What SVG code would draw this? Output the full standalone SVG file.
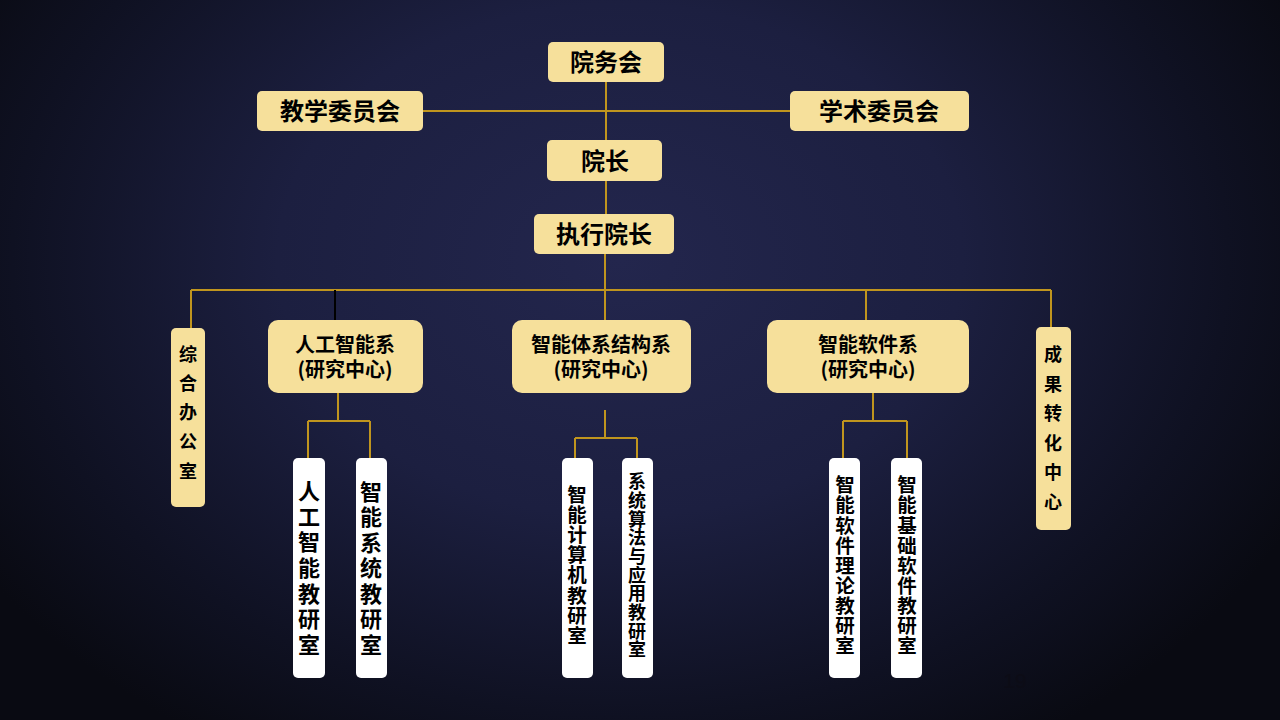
<svg xmlns="http://www.w3.org/2000/svg" width="1280" height="720" viewBox="0 0 1280 720">
<defs>
<radialGradient id="bg" cx="620" cy="260" r="760" gradientUnits="userSpaceOnUse" gradientTransform="translate(620 260) scale(1 0.75) translate(-620 -260)">
<stop offset="0" stop-color="#23264d"/>
<stop offset="0.45" stop-color="#1c1f40"/>
<stop offset="0.8" stop-color="#0f1122"/>
<stop offset="1" stop-color="#090a12"/>
</radialGradient>
<style>
.gold{fill:#f6e09b}
.white{fill:#ffffff}
.t{font-family:"Noto Sans CJK SC","Noto Sans",sans-serif;font-weight:bold;fill:#000;text-anchor:middle}
.c{stroke:#c0951e;stroke-width:2;fill:none}
.k{stroke:#000;stroke-width:2;fill:none}
</style>
</defs>
<rect width="1280" height="720" fill="url(#bg)"/>
<g id="connectors">
<path class="c" d="M606 82V140M423 111H790M606 181V214M605 254V290M191 290H1051M191 290V328M605 290V320M866 290V320M1051 290V328"/>
<path class="k" d="M335 290V320"/>
<path class="c" d="M338 393V421M308 421H370M308 421V458M370 421V458"/>
<path class="c" d="M605 410V438M575 438H637M575 438V468M637 438V470"/>
<path class="c" d="M873 393V421M843 421H907M843 421V458M907 421V458"/>
</g>
<g id="yuanwuhui"><rect class="gold" x="548" y="42" width="116" height="40" rx="5"/><text class="t" x="606" y="71" font-size="24">院务会</text></g>
<g id="jiaoxue"><rect class="gold" x="257" y="91" width="166" height="40" rx="5"/><text class="t" x="340" y="120" font-size="24">教学委员会</text></g>
<g id="xueshu"><rect class="gold" x="790" y="91" width="179" height="40" rx="5"/><text class="t" x="879" y="120" font-size="24">学术委员会</text></g>
<g id="yuanzhang"><rect class="gold" x="547" y="140" width="115" height="41" rx="5"/><text class="t" x="605" y="170" font-size="24">院长</text></g>
<g id="zhixing"><rect class="gold" x="534" y="214" width="140" height="40" rx="5"/><text class="t" x="604" y="243" font-size="24">执行院长</text></g>
<g id="zonghe"><rect class="gold" x="171" y="328" width="34" height="179" rx="5"/>
<text class="t" font-size="18"><tspan x="188" y="361">综</tspan><tspan x="188" y="390">合</tspan><tspan x="188" y="419">办</tspan><tspan x="188" y="448">公</tspan><tspan x="188" y="478">室</tspan></text></g>
<g id="rengong"><rect class="gold" x="268" y="320" width="155" height="73" rx="10"/>
<text class="t" font-size="20"><tspan x="345" y="352">人工智能系</tspan><tspan x="345" y="377">(研究中心)</tspan></text></g>
<g id="tixi"><rect class="gold" x="512" y="320" width="179" height="73" rx="10"/>
<text class="t" font-size="20"><tspan x="601" y="352">智能体系结构系</tspan><tspan x="601" y="377">(研究中心)</tspan></text></g>
<g id="ruanjian"><rect class="gold" x="767" y="320" width="202" height="73" rx="10"/>
<text class="t" font-size="20"><tspan x="868" y="352">智能软件系</tspan><tspan x="868" y="377">(研究中心)</tspan></text></g>
<g id="chengguo"><rect class="gold" x="1036" y="327" width="35" height="203" rx="5"/>
<text class="t" font-size="18"><tspan x="1053" y="361">成</tspan><tspan x="1053" y="391">果</tspan><tspan x="1053" y="420">转</tspan><tspan x="1053" y="450">化</tspan><tspan x="1053" y="479">中</tspan><tspan x="1053" y="509">心</tspan></text></g>
<g id="rgznjys"><rect class="white" x="293" y="458" width="32" height="220" rx="5"/>
<text class="t" font-size="22"><tspan x="309" y="499">人</tspan><tspan x="309" y="525">工</tspan><tspan x="309" y="550">智</tspan><tspan x="309" y="576">能</tspan><tspan x="309" y="602">教</tspan><tspan x="309" y="627">研</tspan><tspan x="309" y="653">室</tspan></text></g>
<g id="znxtjys"><rect class="white" x="356" y="458" width="31" height="220" rx="5"/>
<text class="t" font-size="22"><tspan x="371" y="500">智</tspan><tspan x="371" y="525">能</tspan><tspan x="371" y="551">系</tspan><tspan x="371" y="576">统</tspan><tspan x="371" y="602">教</tspan><tspan x="371" y="627">研</tspan><tspan x="371" y="653">室</tspan></text></g>
<g id="znjsjjys"><rect class="white" x="562" y="458" width="31" height="220" rx="5"/>
<text class="t" font-size="19.5"><tspan x="577" y="502">智</tspan><tspan x="577" y="522">能</tspan><tspan x="577" y="542">计</tspan><tspan x="577" y="562">算</tspan><tspan x="577" y="582">机</tspan><tspan x="577" y="603">教</tspan><tspan x="577" y="623">研</tspan><tspan x="577" y="643">室</tspan></text></g>
<g id="xtsfyyjys"><rect class="white" x="622" y="458" width="31" height="220" rx="5"/>
<text class="t" font-size="18"><tspan x="637" y="488">系</tspan><tspan x="637" y="507">统</tspan><tspan x="637" y="526">算</tspan><tspan x="637" y="544">法</tspan><tspan x="637" y="563">与</tspan><tspan x="637" y="582">应</tspan><tspan x="637" y="600">用</tspan><tspan x="637" y="619">教</tspan><tspan x="637" y="638">研</tspan><tspan x="637" y="656">室</tspan></text></g>
<g id="znrjllyjs"><rect class="white" x="829" y="458" width="31" height="220" rx="5"/>
<text class="t" font-size="19.5"><tspan x="845" y="492">智</tspan><tspan x="845" y="512">能</tspan><tspan x="845" y="533">软</tspan><tspan x="845" y="553">件</tspan><tspan x="845" y="573">理</tspan><tspan x="845" y="593">论</tspan><tspan x="845" y="613">教</tspan><tspan x="845" y="633">研</tspan><tspan x="845" y="653">室</tspan></text></g>
<g id="znjcrjjys"><rect class="white" x="891" y="458" width="31" height="220" rx="5"/>
<text class="t" font-size="19.5"><tspan x="907" y="492">智</tspan><tspan x="907" y="512">能</tspan><tspan x="907" y="533">基</tspan><tspan x="907" y="553">础</tspan><tspan x="907" y="573">软</tspan><tspan x="907" y="593">件</tspan><tspan x="907" y="613">教</tspan><tspan x="907" y="633">研</tspan><tspan x="907" y="653">室</tspan></text></g>
<text x="1015" y="688" font-family="Liberation Sans,Arial,sans-serif" font-size="21" fill="#0c0c16" text-anchor="middle">19</text>
</svg>
